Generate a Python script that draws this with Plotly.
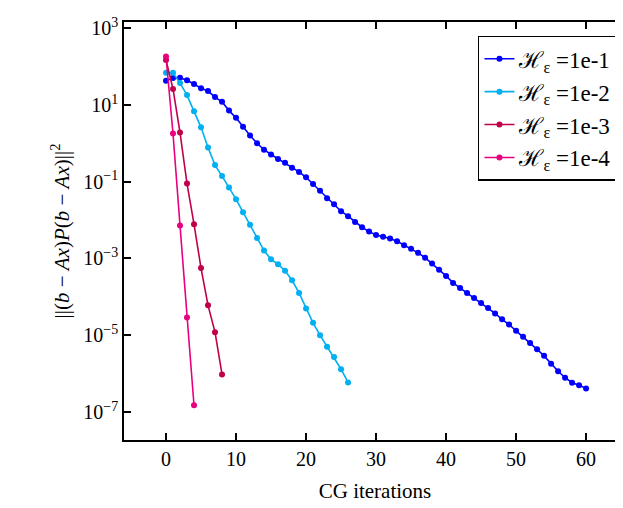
import plotly.graph_objects as go

iters_1 = list(range(61))
res_1 = [42.7, 50, 51, 44, 35, 27, 23, 16, 12, 7.1, 4.6, 2.7, 1.6, 1.0, 0.68, 0.51, 0.39, 0.31,
         0.23, 0.18, 0.13, 0.087, 0.058, 0.037, 0.026, 0.017, 0.0126, 0.0089, 0.0065, 0.0050,
         0.0041, 0.0037, 0.0033, 0.0028, 0.0022, 0.0018, 0.0014, 0.00105, 7.4e-4, 5.1e-4, 3.5e-4,
         2.3e-4, 1.7e-4, 1.26e-4, 9.3e-5, 6.9e-5, 5.1e-5, 3.7e-5, 2.6e-5, 1.9e-5, 1.3e-5, 9.1e-6,
         6.3e-6, 4.3e-6, 2.9e-6, 1.8e-6, 1.15e-6, 7.8e-7, 5.8e-7, 5.0e-7, 4.1e-7]
iters_2 = list(range(27))
res_2 = [69, 69, 37, 18, 6.8, 2.6, 0.78, 0.27, 0.14, 0.071, 0.035, 0.016, 0.0076, 0.0034, 0.0016,
         9.5e-4, 7.1e-4, 4.8e-4, 2.7e-4, 1.26e-4, 5.0e-5, 2.1e-5, 1.0e-5, 5.0e-6, 2.7e-6, 1.3e-6, 5.9e-7]
iters_3 = list(range(9))
res_3 = [148, 26, 1.9, 0.089, 0.0078, 5.6e-4, 6e-5, 1.2e-5, 9.5e-7]
iters_4 = list(range(5))
res_4 = [182, 1.8, 0.0072, 2.9e-5, 1.5e-7]

labels = ["1e-1", "1e-2", "1e-3", "1e-4"]
colors = ["#0000ff", "#00b0f0", "#c0004a", "#e8007f"]
ytick_vals = [1e3, 1e1, 1e-1, 1e-3, 1e-5, 1e-7]
ytick_text = ["10<sup>3</sup>", "10<sup>1</sup>", "10<sup>−1</sup>", "10<sup>−3</sup>",
              "10<sup>−5</sup>", "10<sup>−7</sup>"]

fig = go.Figure()
for xs, ys, lab, c in zip([iters_1, iters_2, iters_3, iters_4], [res_1, res_2, res_3, res_4], labels, colors):
    fig.add_trace(go.Scatter(x=xs, y=ys, mode="lines+markers", name="ℋ<sub>ε</sub> =" + lab,
                             line=dict(color=c, width=1.6), marker=dict(color=c, size=6)))

axis_common = dict(showline=True, linecolor="black", linewidth=1.5, mirror="ticks", ticks="inside",
                   ticklen=7, tickwidth=1.5, tickcolor="black", showgrid=False, zeroline=False,
                   tickfont=dict(size=20))
fig.update_xaxes(range=[-6, 65.7], tickvals=[0, 10, 20, 30, 40, 50, 60],
                 title=dict(text="CG iterations", font=dict(size=21)), **axis_common)
fig.update_yaxes(type="log", range=[-7.73, 3.16], tickvals=ytick_vals, ticktext=ytick_text,
                 title=dict(text="||(<i>b</i> − <i>Ax</i>)<i>P</i>(<i>b</i> − <i>Ax</i>)||<sup>2</sup>",
                            font=dict(size=21), standoff=8), **axis_common)
fig.update_layout(
    width=623, height=508, plot_bgcolor="white", paper_bgcolor="white",
    font=dict(family="Liberation Serif", color="black"),
    margin=dict(l=116, r=3, t=14, b=76),
    legend=dict(x=0.984, y=0.967, xanchor="right", yanchor="top", bordercolor="black",
                borderwidth=1.5, font=dict(size=23), bgcolor="white", tracegroupgap=0),
)
fig.write_html("out.html")
